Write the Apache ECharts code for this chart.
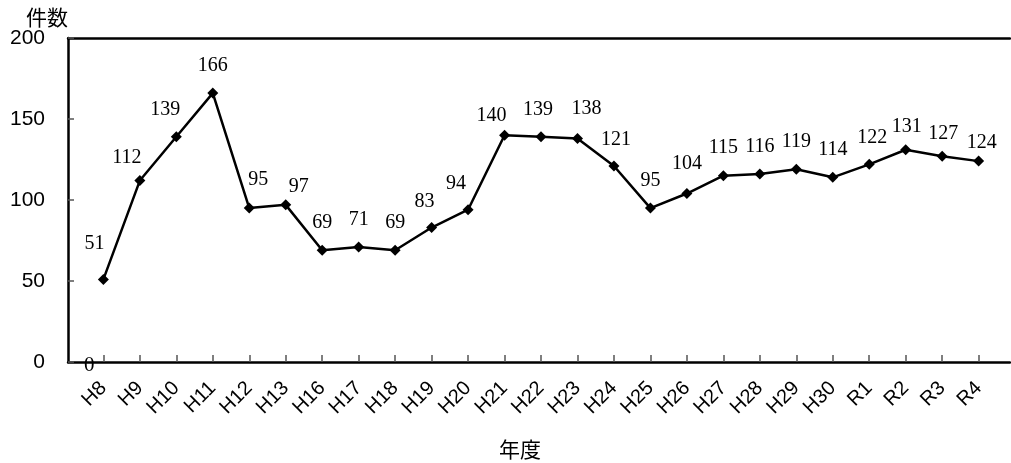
<!DOCTYPE html>
<html>
<head>
<meta charset="utf-8">
<script src="https://cdn.jsdelivr.net/npm/echarts@6/dist/echarts.min.js"></script>
<style>
html,body{margin:0;padding:0;background:#fff;}
#chart{width:1011px;height:463px;}
</style>
</head>
<body>
<div id="chart"></div>
<script>
const categories = ['H8','H9','H10','H11','H12','H13','H16','H17','H18','H19','H20','H21','H22','H23','H24','H25','H26','H27','H28','H29','H30','R1','R2','R3','R4'];
const counts = [51,112,139,166,95,97,69,71,69,83,94,140,139,138,121,95,104,115,116,119,114,122,131,127,124];
const yTicks = [0,50,100,150,200];

// label nudges (style only), keyed by category index
const labelNudge = {0:[-9,-8],1:[-13,5],2:[-11,0],4:[9,-1],5:[13,9],9:[-7,2],10:[-12,2],11:[-13,8],12:[-3,0],13:[9,-2],14:[2,1],16:[0,-2],21:[3,1],22:[1,4],23:[1,5],24:[3,9]};

const seriesData = counts.map((v,i) => {
  const item = {value:[i, v]};
  if (labelNudge[i]) item.label = {offset: labelNudge[i]};
  return item;
});
const idx = categories.map((c,i)=>i);

const chart = echarts.init(document.getElementById('chart'), null, {renderer:'canvas'});
chart.setOption({
  animation:false,
  backgroundColor:'#fff',
  grid:{left:68, right:1, top:38, bottom:101, containLabel:false, outerBoundsMode:'none'},
  xAxis:[{
    type:'value', min:-0.97, max:24.86, position:'bottom',
    axisLine:{show:true, onZero:false, lineStyle:{color:'#000', width:2.5}},
    axisTick:{show:true, inside:true, length:7, customValues:idx, lineStyle:{color:'#555', width:1.5}},
    axisLabel:{customValues:idx, rotate:45, margin:23, fontFamily:'Liberation Sans', fontSize:20, color:'#000',
      formatter:v => categories[Math.round(v)] || ''},
    splitLine:{show:false},
    name:'年度', nameLocation:'middle', nameGap:77,
    nameTextStyle:{fontFamily:'Noto Sans CJK JP', fontSize:21, color:'#000', padding:[0,38,0,0]}
  },{
    type:'value', min:-0.97, max:24.86, position:'top',
    axisLine:{show:true, onZero:false, lineStyle:{color:'#000', width:2.5}},
    axisTick:{show:false}, axisLabel:{show:false}, splitLine:{show:false}
  }],
  yAxis:{
    type:'value', min:0, max:200, interval:50,
    axisLine:{show:true, onZero:false, lineStyle:{color:'#000', width:2.5}},
    axisTick:{show:true, inside:true, length:6, lineStyle:{color:'#555', width:1.5}},
    axisLabel:{fontFamily:'Liberation Sans', fontSize:21, color:'#000', margin:23,
      customValues:yTicks},
    splitLine:{show:false},
    name:'件数', nameLocation:'end', nameGap:-3,
    nameTextStyle:{fontFamily:'Noto Sans CJK JP', fontSize:21, color:'#000', align:'right', verticalAlign:'bottom', padding:[0,0,0,0]}
  },
  graphic:[{
    type:'text', left:84, top:355,
    style:{text:'0', font:'21px "Liberation Serif"', fill:'#000'}
  }],
  series:[{
    type:'line', xAxisIndex:0,
    data:seriesData,
    symbol:'diamond', symbolSize:11,
    lineStyle:{color:'#000', width:2.5},
    itemStyle:{color:'#000'},
    label:{show:true, position:'top', distance:12, fontFamily:'Liberation Serif', fontSize:20, color:'#000',
      formatter:p => p.value[1]}
  }]
});
</script>
</body>
</html>
